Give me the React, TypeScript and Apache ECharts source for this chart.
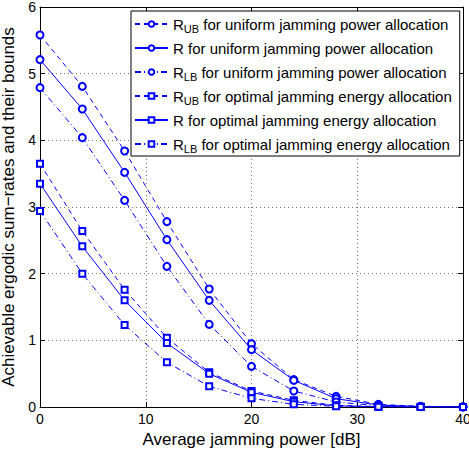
import React, { useEffect, useRef } from "react";
import * as echarts from "echarts";

const xValues = [0, 4, 8, 12, 16, 20, 24, 28, 32, 36, 40];
const ubUniform = [5.58, 4.81, 3.84, 2.78, 1.77, 0.95, 0.41, 0.16, 0.04, 0.01, 0.003];
const rUniform = [5.21, 4.47, 3.52, 2.51, 1.6, 0.86, 0.4, 0.125, 0.03, 0.008, 0.002];
const lbUniform = [4.79, 4.04, 3.1, 2.11, 1.24, 0.61, 0.24, 0.075, 0.02, 0.005, 0.001];
const ubOptimal = [3.65, 2.64, 1.76, 1.04, 0.52, 0.24, 0.1, 0.025, 0.006, 0.002, 0.001];
const rOptimal = [3.35, 2.41, 1.6, 0.96, 0.5, 0.22, 0.08, 0.018, 0.004, 0.001, 0.0005];
const lbOptimal = [2.94, 2.0, 1.23, 0.67, 0.31, 0.13, 0.04, 0.01, 0.002, 0.0005, 0.0002];

const seriesNames = [
  "R_UB for uniform jamming power allocation",
  "R for uniform jamming power allocation",
  "R_LB for uniform jamming power allocation",
  "R_UB for optimal jamming energy allocation",
  "R for optimal jamming energy allocation",
  "R_LB for optimal jamming energy allocation",
];
const seriesValues = [ubUniform, rUniform, lbUniform, ubOptimal, rOptimal, lbOptimal];
const xTitle = "Average jamming power [dB]";
const yTitle = "Achievable ergodic sum\u2212rates and their bounds";

const FONT = "'Liberation Sans', Arial, Helvetica, sans-serif";
const BLUE = "#0000ff";
const dashed = [5, 4];
const dashDot = [6, 3, 1, 3];
const lineTypes: any[] = [dashed, "solid", dashDot, dashed, "solid", dashDot];
const symbols = ["emptyCircle", "emptyCircle", "emptyCircle", "emptyRect", "emptyRect", "emptyRect"];
const symbolSizes = [7, 7, 7, 6, 6, 6];

export default function App() {
  const ref = useRef<HTMLDivElement>(null);
  useEffect(() => {
    if (!ref.current) return;
    const chart = echarts.init(ref.current, null, { renderer: "svg" });
    const series = seriesNames.map((name, k) => ({
      name,
      type: "line",
      data: xValues.map((x, i) => [x, seriesValues[k][i]]),
      symbol: symbols[k],
      symbolSize: symbolSizes[k],
      color: BLUE,
      itemStyle: { color: BLUE, borderColor: BLUE, borderWidth: 1 },
      lineStyle: { color: BLUE, width: 1, type: lineTypes[k] },
      xAxisIndex: 0,
      yAxisIndex: 0,
    }));
    const gridLine = { show: true, lineStyle: { color: "#777", width: 1, type: [1, 3] } };
    chart.setOption({
      animation: false,
      textStyle: { fontFamily: FONT },
      grid: { left: 40, right: 6, top: 7, bottom: 44, containLabel: false, outerBoundsMode: "none" },
      legend: {
        orient: "vertical",
        left: 131,
        top: 11,
        padding: [3, 8, 2, 3],
        itemWidth: 33,
        itemHeight: 7,
        itemGap: 4,
        backgroundColor: "#fff",
        borderColor: "#000",
        borderWidth: 1,
        data: seriesNames,
        formatter: (name: string) => name.replace(/_(UB|LB)/, "{sub|$1}"),
        textStyle: {
          fontFamily: FONT,
          fontSize: 15,
          color: "#000",
          lineHeight: 20,
          rich: {
            sub: { fontFamily: FONT, fontSize: 11, color: "#000", lineHeight: 2, verticalAlign: "bottom" },
          },
        },
      },
      xAxis: [
        {
          type: "value",
          min: 0,
          max: 40,
          interval: 10,
          name: xTitle,
          nameLocation: "middle",
          nameGap: 20,
          nameTextStyle: { fontFamily: FONT, fontSize: 17, color: "#000" },
          axisLine: { show: true, onZero: false, lineStyle: { color: "#000", width: 1 } },
          axisTick: { show: true, inside: true, length: 5, lineStyle: { color: "#000" } },
          axisLabel: { fontFamily: FONT, fontSize: 14, color: "#000", margin: 5 },
          splitLine: gridLine,
        },
        {
          type: "value",
          position: "top",
          min: 0,
          max: 40,
          interval: 10,
          axisLine: { show: true, onZero: false, lineStyle: { color: "#000", width: 1 } },
          axisTick: { show: true, inside: true, length: 5, lineStyle: { color: "#000" } },
          axisLabel: { show: false },
          splitLine: { show: false },
        },
      ],
      yAxis: [
        {
          type: "value",
          min: 0,
          max: 6,
          interval: 1,
          name: yTitle,
          nameLocation: "middle",
          nameGap: 12,
          nameTextStyle: { fontFamily: FONT, fontSize: 17, color: "#000" },
          axisLine: { show: true, onZero: false, lineStyle: { color: "#000", width: 1 } },
          axisTick: { show: true, inside: true, length: 5, lineStyle: { color: "#000" } },
          axisLabel: { fontFamily: FONT, fontSize: 14, color: "#000", margin: 4 },
          splitLine: gridLine,
        },
        {
          type: "value",
          position: "right",
          min: 0,
          max: 6,
          interval: 1,
          axisLine: { show: true, onZero: false, lineStyle: { color: "#000", width: 1 } },
          axisTick: { show: true, inside: true, length: 5, lineStyle: { color: "#000" } },
          axisLabel: { show: false },
          splitLine: { show: false },
        },
      ],
      series,
    });
    return () => chart.dispose();
  }, []);
  return (
    <div
      ref={ref}
      style={{ position: "absolute", left: 0, top: 0, width: 469, height: 451, background: "#fff" }}
    />
  );
}
